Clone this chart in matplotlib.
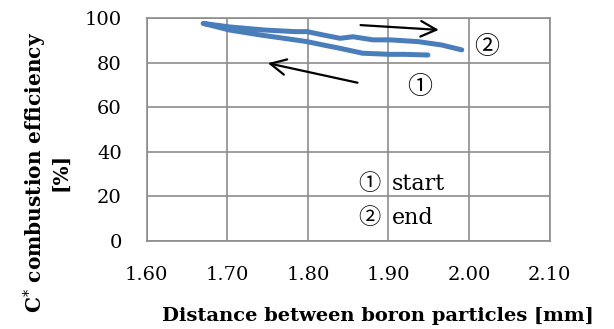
import matplotlib.pyplot as plt

plt.rcParams['font.family'] = ['DejaVu Serif', 'Noto Sans CJK JP', 'DejaVu Sans']
plt.rcParams['mathtext.fontset'] = 'dejavuserif'

# distance [mm] and C* efficiency [%]
# track 1: start (right) -> left
dist_start = [1.949, 1.920, 1.902, 1.868, 1.840, 1.819, 1.799, 1.784, 1.741, 1.703, 1.670]
eff_start = [83.5, 83.8, 83.8, 84.3, 86.5, 88.0, 89.5, 90.3, 92.5, 94.7, 97.7]
# track 2: left -> end (right)
dist_end = [1.670, 1.703, 1.747, 1.784, 1.799, 1.819, 1.840, 1.856, 1.881, 1.902, 1.937, 1.966, 1.991]
eff_end = [97.7, 96.1, 94.7, 94.0, 94.0, 92.5, 91.0, 91.7, 90.3, 90.3, 89.5, 88.0, 85.8]

xticks = [1.60, 1.70, 1.80, 1.90, 2.00, 2.10]
yticks = [0, 20, 40, 60, 80, 100]

fig = plt.figure(figsize=(6.14, 3.29), dpi=100)
ax = fig.add_axes([0.239, 0.2675, 0.656, 0.677])

ax.plot(dist_start + dist_end, eff_start + eff_end, color='#4a7ebb', lw=3.6,
        solid_capstyle='round', solid_joinstyle='round', zorder=3)

ax.set_xlim(1.60, 2.10)
ax.set_ylim(0, 100)
ax.set_xticks(xticks)
ax.set_xticklabels([f'{v:.2f}' for v in xticks])
ax.set_yticks(yticks)
ax.grid(True, color='#8c8c8c', lw=1.2)
ax.set_axisbelow(True)
for s in ax.spines.values():
    s.set_color('#8c8c8c')
    s.set_linewidth(1.2)
ax.tick_params(length=0, labelsize=14, pad=18)

ax.set_xlabel('Distance between boron particles [mm]', fontsize=14, fontweight='bold',
              va='center')
ax.set_ylabel('C$^{*}$ combustion efficiency\n[%]', fontsize=14.5, fontweight='bold',
              linespacing=1.05, va='center')
ax.xaxis.set_label_coords(0.575, -0.337)
ax.yaxis.set_label_coords(-0.25, 0.31)

arrow = dict(arrowstyle='->', color='black', lw=1.6, mutation_scale=28)
ax.annotate('', xy=(1.747, 80.1), xytext=(1.865, 70.8), arrowprops=arrow)
ax.annotate('', xy=(1.966, 94.7), xytext=(1.862, 97.0), arrowprops=arrow)

ax.text(1.939, 68.7, '①', fontsize=18, ha='center', va='center')
ax.text(2.022, 87.0, '②', fontsize=18, ha='center', va='center')
ax.text(1.862, 25.5, '①', fontsize=16, ha='left', va='center')
ax.text(1.904, 25.5, 'start', fontsize=16, ha='left', va='center')
ax.text(1.862, 10.5, '②', fontsize=16, ha='left', va='center')
ax.text(1.904, 10.5, 'end', fontsize=16, ha='left', va='center')

fig.savefig('out.png', dpi=100)
